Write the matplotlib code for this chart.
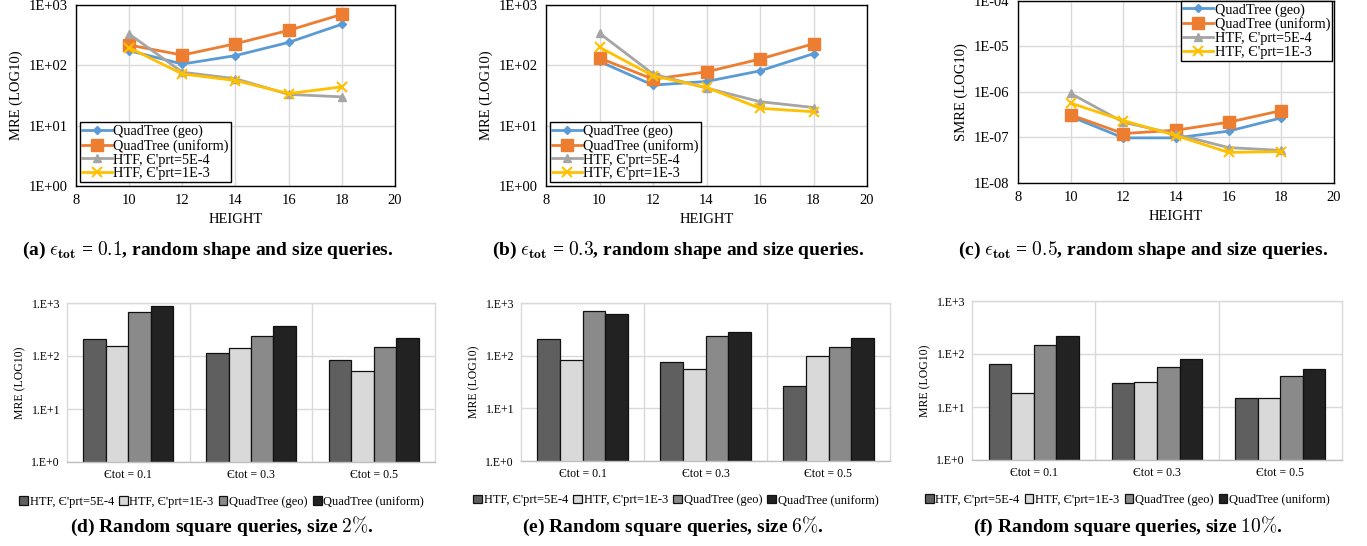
import numpy as np
import matplotlib
matplotlib.use("Agg")
import matplotlib.pyplot as plt
from matplotlib.ticker import FixedLocator, FixedFormatter

plt.rcParams["font.family"] = ["Liberation Serif", "DejaVu Serif"]
plt.rcParams["mathtext.fontset"] = "cm"

W, H = 1367, 546

# ── Data: line panels (a)-(c) ─────────────────────────────────────
heights = [10, 12, 14, 16, 18]
line_names = ["QuadTree (geo)", "QuadTree (uniform)",
              "HTF, Є'prt=5E-4", "HTF, Є'prt=1E-3"]

a_geo = [175, 105, 145, 240, 480]
a_uni = [217, 148, 228, 380, 700]
a_htf5 = [330, 77, 60, 33, 30]
a_htf1 = [196, 72, 56, 34, 44]

b_geo = [116, 47, 54, 81, 156]
b_uni = [132, 59, 78, 127, 228]
b_htf5 = [340, 72, 42, 25, 20]
b_htf1 = [200, 67, 43, 19.4, 17]

c_geo = [2.9e-7, 0.98e-7, 0.98e-7, 1.38e-7, 2.7e-7]
c_uni = [3.15e-7, 1.22e-7, 1.45e-7, 2.17e-7, 3.9e-7]
c_htf5 = [9.3e-7, 2.17e-7, 1.18e-7, 6.0e-8, 5.2e-8]
c_htf1 = [5.7e-7, 2.36e-7, 1.1e-7, 4.7e-8, 4.9e-8]

# ── Data: bar panels (d)-(f) ──────────────────────────────────────
eps_labels = ["Єtot = 0.1", "Єtot = 0.3", "Єtot = 0.5"]
bar_names = ["HTF, Є'prt=5E-4", "HTF, Є'prt=1E-3",
             "QuadTree (geo)", "QuadTree (uniform)"]

d_htf5 = [210, 112, 83]
d_htf1 = [157, 144, 52]
d_geo = [684, 238, 148]
d_uni = [865, 367, 221]

e_htf5 = [207, 77, 26]
e_htf1 = [83, 56, 97]
e_geo = [698, 239, 148]
e_uni = [630, 284, 216]

f_htf5 = [66, 28, 15]
f_htf1 = [18, 29, 15]
f_geo = [150, 56, 38]
f_uni = [221, 79, 52]

line_colors = ["#5B9BD5", "#ED7D31", "#A5A5A5", "#FFC000"]
line_markers = [("D", 4), ("s", 8), ("^", 6), ("x", 7)]
bar_colors = ["#5F5F5F", "#D9D9D9", "#8A8A8A", "#222222"]


def px(l, t, r, b):
    return [l / W, 1 - b / H, (r - l) / W, (b - t) / H]


fig = plt.figure(figsize=(W / 100, H / 100), dpi=100)


def line_panel(rect, series, ylabel, ymin, ymax, ylabels, legend_loc):
    ax = fig.add_axes(px(*rect))
    for vals, name, col, (m, ms) in zip(series, line_names, line_colors, line_markers):
        ax.plot(heights, vals, color=col, lw=2, marker=m, ms=ms,
                mew=1.5 if m == "x" else 1, label=name)
    ax.set_yscale("log")
    ax.set_ylim(ymin, ymax)
    ax.set_xlim(8, 20)
    ax.set_xticks([8, 10, 12, 14, 16, 18, 20])
    decades = [ymin * 10 ** k for k in range(len(ylabels))]
    ax.yaxis.set_major_locator(FixedLocator(decades))
    ax.yaxis.set_major_formatter(FixedFormatter(ylabels))
    ax.yaxis.set_minor_locator(FixedLocator([]))
    ax.grid(True, color="#D9D9D9", lw=1)
    ax.set_axisbelow(True)
    ax.tick_params(length=0, labelsize=10.5, pad=6)
    for s in ax.spines.values():
        s.set_color("black")
        s.set_linewidth(1)
    ax.set_ylabel(ylabel, fontsize=10.5)
    ax.set_xlabel("HEIGHT", fontsize=10.5)
    leg_kw = dict(borderaxespad=0, fontsize=10.3, handlelength=2.1,
                  handletextpad=0.1, labelspacing=0.05, borderpad=0.15)
    if legend_loc == "lower left":
        leg = ax.legend(loc="lower left", bbox_to_anchor=(0.012, 0.02), **leg_kw)
    else:
        leg = ax.legend(loc="upper right", bbox_to_anchor=(0.995, 1.0), **leg_kw)
    leg.get_frame().set_edgecolor("black")
    leg.get_frame().set_linewidth(1)
    leg.get_frame().set_boxstyle("square", pad=0)
    leg.get_frame().set_alpha(1)
    return ax


dec3 = ["1E+00", "1E+01", "1E+02", "1E+03"]
line_panel((76, 5, 395, 186), [a_geo, a_uni, a_htf5, a_htf1], "MRE (LOG10)",
           1, 1000, dec3, "lower left")
line_panel((546, 5, 867, 186), [b_geo, b_uni, b_htf5, b_htf1], "MRE (LOG10)",
           1, 1000, dec3, "lower left")
line_panel((1018, 1, 1334, 183), [c_geo, c_uni, c_htf5, c_htf1], "SMRE (LOG10)",
           1e-8, 1e-4, ["1E-08", "1E-07", "1E-06", "1E-05", "1E-04"], "upper right")


def bar_panel(rect, series):
    ax = fig.add_axes(px(*rect))
    x = np.arange(len(eps_labels))
    w = 0.183
    for i, (vals, name, col) in enumerate(zip(series, bar_names, bar_colors)):
        ax.bar(x + (i - 1.5) * w, vals, width=w, color=col,
               edgecolor="#111111", linewidth=0.9, label=name)
    ax.set_yscale("log")
    ax.set_ylim(1, 1000)
    ax.set_xlim(-0.5, 2.5)
    ax.yaxis.set_major_locator(FixedLocator([1, 10, 100, 1000]))
    ax.yaxis.set_major_formatter(FixedFormatter(["1.E+0", "1.E+1", "1.E+2", "1.E+3"]))
    ax.yaxis.set_minor_locator(FixedLocator([]))
    ax.set_xticks(x)
    ax.set_xticklabels(eps_labels)
    ax.xaxis.set_minor_locator(FixedLocator([0.5, 1.5]))
    ax.grid(True, axis="y", color="#D9D9D9", lw=1)
    ax.grid(True, axis="x", which="minor", color="#D9D9D9", lw=1)
    ax.set_axisbelow(True)
    ax.tick_params(which="both", length=0, labelsize=8.5, pad=5)
    for s in ax.spines.values():
        s.set_color("#D9D9D9")
        s.set_linewidth(1)
    ax.spines["bottom"].set_color("#BFBFBF")
    ax.set_ylabel("MRE (LOG10)", fontsize=8.5)
    ax.legend(loc="upper center", bbox_to_anchor=(0.42, -0.18), ncol=4,
              frameon=False, fontsize=9, handlelength=0.7, handleheight=0.7,
              handletextpad=0.15, columnspacing=0.4, borderaxespad=0)
    return ax


bar_panel((67, 303, 435, 462), [d_htf5, d_htf1, d_geo, d_uni])
bar_panel((521, 303, 890, 461), [e_htf5, e_htf1, e_geo, e_uni])
bar_panel((972, 301, 1342, 460), [f_htf5, f_htf1, f_geo, f_uni])

# ── Captions ──────────────────────────────────────────────────────
cap_kw = dict(ha="center", va="center", fontsize=14, fontweight="bold")
eps = r"$\epsilon_{\mathbf{tot}}$"
fig.text(208 / W, 1 - 250 / H, "(a) " + eps + r" = $0.1$, random shape and size queries.", **cap_kw)
fig.text(678 / W, 1 - 250 / H, "(b) " + eps + r" = $0.3$, random shape and size queries.", **cap_kw)
fig.text(1143 / W, 1 - 250 / H, "(c) " + eps + r" = $0.5$, random shape and size queries.", **cap_kw)
fig.text(222 / W, 1 - 526 / H, r"(d) Random square queries, size $2\%$.", **cap_kw)
fig.text(673 / W, 1 - 526 / H, r"(e) Random square queries, size $6\%$.", **cap_kw)
fig.text(1128 / W, 1 - 526 / H, r"(f) Random square queries, size $10\%$.", **cap_kw)

fig.savefig("out.png", dpi=100, facecolor="white")
